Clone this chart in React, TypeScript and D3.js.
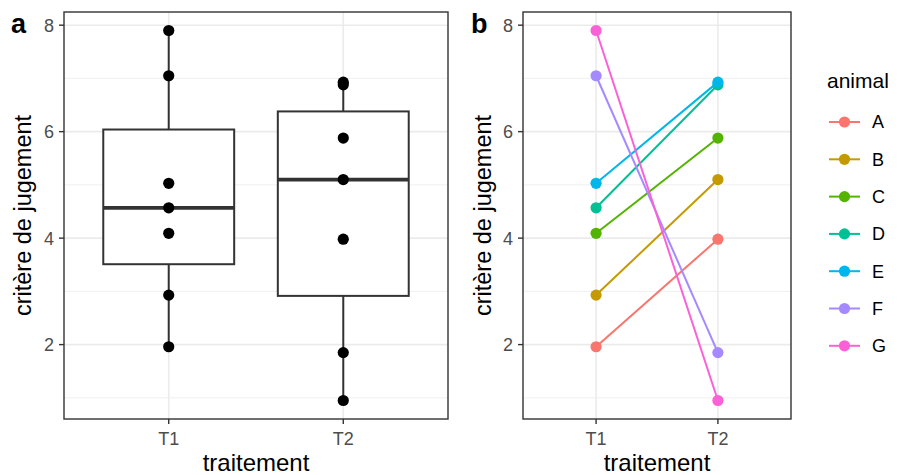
import React from "react";
import * as d3 from "d3";

const categories = ["T1", "T2"];
const animals = ["A", "B", "C", "D", "E", "F", "G"];
const t1Values = [1.96, 2.93, 4.09, 4.57, 5.03, 7.05, 7.9];
const t2Values = [3.98, 5.1, 5.88, 6.88, 6.93, 1.85, 0.95];
const yTicks = [2, 4, 6, 8];
const yMinorTicks = [1, 3, 5, 7];
const animalColors = ["#F8766D", "#C49A00", "#53B400", "#00C094", "#00B6EB", "#A58AFF", "#FB61D7"];
const panelLabels = ["a", "b"];
const yTitle = "critère de jugement";
const xTitle = "traitement";
const legendTitle = "animal";

const FONT = "'Liberation Sans', Arial, Helvetica, sans-serif";
const W = 899;
const H = 475;
const TOP = 12;
const BOTTOM = 419;
const R = 5.6;

const allVals = [...t1Values, ...t2Values];
const vMin = d3.min(allVals) as number;
const vMax = d3.max(allVals) as number;
const ext = (vMax - vMin) * 0.05;
const y = d3.scaleLinear().domain([vMin - ext, vMax + ext]).range([BOTTOM, TOP]);

function boxStats(vals: number[]) {
  const s = [...vals].sort((a, b) => a - b);
  const q1 = d3.quantile(s, 0.25) as number;
  const med = d3.quantile(s, 0.5) as number;
  const q3 = d3.quantile(s, 0.75) as number;
  const iqr = q3 - q1;
  const lo = d3.min(s.filter((v) => v >= q1 - 1.5 * iqr)) as number;
  const hi = d3.max(s.filter((v) => v <= q3 + 1.5 * iqr)) as number;
  return { q1, med, q3, lo, hi };
}

function Frame({ left, right, label, titleX, children }: any) {
  const x = d3.scalePoint<string>().domain(categories).range([left, right]).padding(0.6);
  return (
    <g>
      <rect x={left} y={TOP} width={right - left} height={BOTTOM - TOP} fill="#fff" />
      {yMinorTicks.map((t) => (
        <line key={"m" + t} x1={left} x2={right} y1={y(t)} y2={y(t)} stroke="#ebebeb" strokeWidth={0.8} />
      ))}
      {yTicks.map((t) => (
        <line key={"M" + t} x1={left} x2={right} y1={y(t)} y2={y(t)} stroke="#ebebeb" strokeWidth={1.6} />
      ))}
      {categories.map((c) => (
        <line key={c} x1={x(c)} x2={x(c)} y1={TOP} y2={BOTTOM} stroke="#ebebeb" strokeWidth={1.6} />
      ))}
      {children(x)}
      <rect x={left} y={TOP} width={right - left} height={BOTTOM - TOP} fill="none" stroke="#333" strokeWidth={1.4} />
      {yTicks.map((t) => (
        <g key={"t" + t}>
          <line x1={left - 5} x2={left} y1={y(t)} y2={y(t)} stroke="#333" strokeWidth={1.4} />
          <text x={left - 10} y={y(t)} dy="0.36em" textAnchor="end" fontSize={18} fill="#4d4d4d" fontFamily={FONT}>
            {t}
          </text>
        </g>
      ))}
      {categories.map((c) => (
        <g key={"x" + c}>
          <line x1={x(c)} x2={x(c)} y1={BOTTOM} y2={BOTTOM + 5} stroke="#333" strokeWidth={1.4} />
          <text x={x(c)} y={445} textAnchor="middle" fontSize={18} fill="#4d4d4d" fontFamily={FONT}>
            {c}
          </text>
        </g>
      ))}
      <text x={(left + right) / 2} y={471} textAnchor="middle" fontSize={24} fill="#000" fontFamily={FONT}>
        {xTitle}
      </text>
      <text
        transform={`translate(${titleX},${(TOP + BOTTOM) / 2}) rotate(-90)`}
        textAnchor="middle"
        fontSize={23.5}
        fill="#000"
        fontFamily={FONT}
      >
        {yTitle}
      </text>
      <text x={titleX - 20} y={33} fontSize={27} fontWeight="bold" fill="#000" fontFamily={FONT}>
        {label}
      </text>
    </g>
  );
}

export default function App() {
  const groups = [t1Values, t2Values];
  return (
    <svg width={W} height={H} style={{ position: "absolute", left: 0, top: 0, background: "#fff" }}>
      <rect width={W} height={H} fill="#fff" />
      <Frame left={64} right={448} label={panelLabels[0]} titleX={31}>
        {(x: any) => {
          const bw = x.step() * 0.75;
          return categories.map((c, i) => {
            const st = boxStats(groups[i]);
            const cx = x(c);
            return (
              <g key={c}>
                <line x1={cx} x2={cx} y1={y(st.q3)} y2={y(st.hi)} stroke="#333" strokeWidth={2} />
                <line x1={cx} x2={cx} y1={y(st.q1)} y2={y(st.lo)} stroke="#333" strokeWidth={2} />
                <rect x={cx - bw / 2} y={y(st.q3)} width={bw} height={y(st.q1) - y(st.q3)} fill="#fff" stroke="#333" strokeWidth={2} />
                <line x1={cx - bw / 2} x2={cx + bw / 2} y1={y(st.med)} y2={y(st.med)} stroke="#333" strokeWidth={3.8} />
                {groups[i].map((v, j) => (
                  <circle key={j} cx={cx} cy={y(v)} r={R} fill="#000" />
                ))}
              </g>
            );
          });
        }}
      </Frame>
      <Frame left={523} right={791} label={panelLabels[1]} titleX={491}>
        {(x: any) =>
          animals.map((a, i) => (
            <g key={a}>
              <line
                x1={x(categories[0])}
                x2={x(categories[1])}
                y1={y(t1Values[i])}
                y2={y(t2Values[i])}
                stroke={animalColors[i]}
                strokeWidth={2}
              />
              <circle cx={x(categories[0])} cy={y(t1Values[i])} r={R} fill={animalColors[i]} />
              <circle cx={x(categories[1])} cy={y(t2Values[i])} r={R} fill={animalColors[i]} />
            </g>
          ))
        }
      </Frame>
      <g>
        <text x={827} y={88} fontSize={21} fill="#000" fontFamily={FONT}>
          {legendTitle}
        </text>
        {animals.map((a, i) => {
          const ky = 122 + i * 37.3;
          return (
            <g key={a}>
              <line x1={829} x2={860} y1={ky} y2={ky} stroke={animalColors[i]} strokeWidth={2} />
              <circle cx={844.5} cy={ky} r={R} fill={animalColors[i]} />
              <text x={872} y={ky} dy="0.36em" fontSize={18} fill="#000" fontFamily={FONT}>
                {a}
              </text>
            </g>
          );
        })}
      </g>
    </svg>
  );
}
